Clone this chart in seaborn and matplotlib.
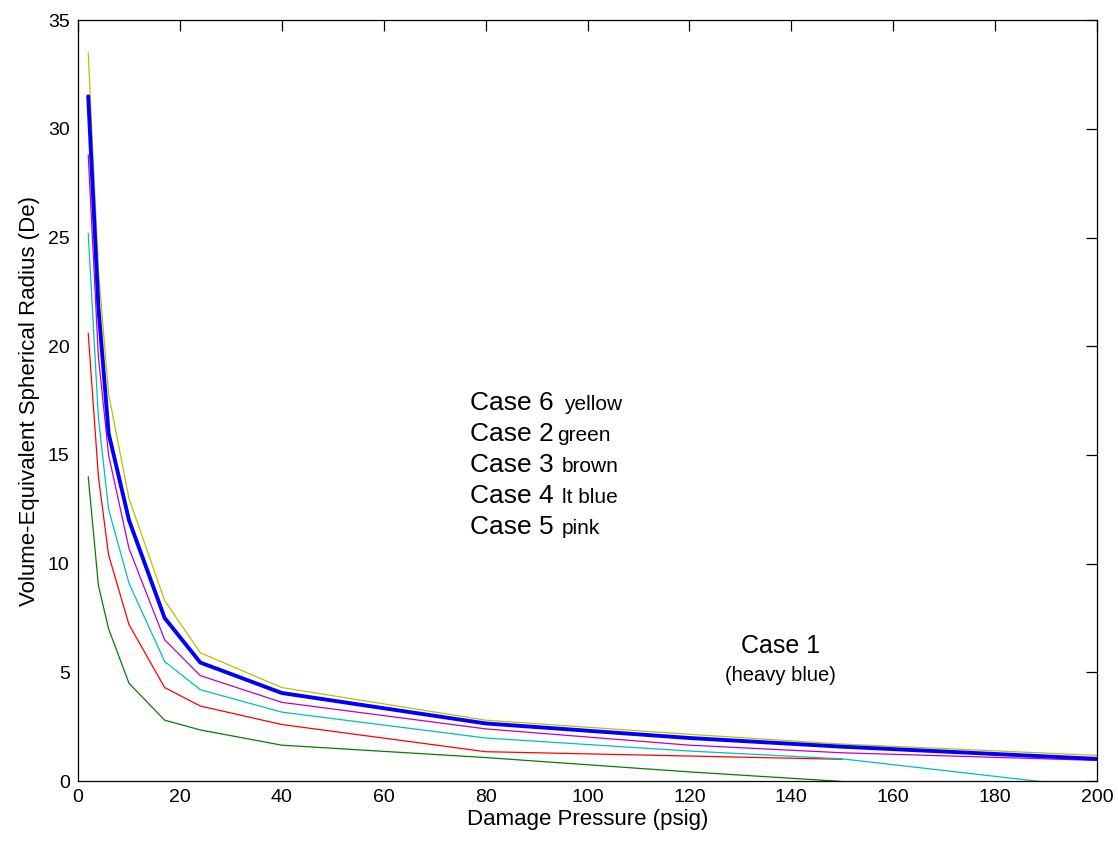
import numpy as np
import pandas as pd
import matplotlib
matplotlib.use("Agg")
import matplotlib.pyplot as plt
import seaborn as sns

# Damage pressure (psig) at which each case was evaluated
pressure = [2, 4, 6, 10, 17, 24, 40, 80, 120, 150, 200]

# Volume-equivalent spherical radius (De) for each case
case1 = [31.5, 21.8, 16.0, 12.0, 7.5, 5.45, 4.05, 2.65, 1.98, 1.58, 1.02]
case2 = [14.0, 9.0, 7.0, 4.5, 2.8, 2.35, 1.65, 1.08, 0.42, -0.02, np.nan]
case3 = [20.6, 14.0, 10.4, 7.2, 4.3, 3.45, 2.6, 1.35, 1.15, 1.0, np.nan]
case4 = [25.2, 16.7, 12.5, 9.1, 5.5, 4.2, 3.17, 1.98, 1.38, 1.02, -0.32]
case5 = [28.8, 19.5, 15.0, 10.7, 6.5, 4.85, 3.62, 2.4, 1.65, 1.3, 0.95]
case6 = [33.5, 23.5, 17.8, 13.0, 8.3, 5.9, 4.3, 2.8, 2.15, 1.7, 1.18]

case_names = ["Case 6", "Case 2", "Case 3", "Case 4", "Case 5", "Case 1"]
case_values = [case6, case2, case3, case4, case5, case1]
case_colors = [(0.75, 0.75, 0), (0, 0.5, 0), (1, 0, 0),
               (0, 0.75, 0.75), (0.75, 0, 0.75), (0, 0, 1)]
case_widths = [0.9, 0.9, 0.9, 0.9, 0.9, 2.8]

x_ticks = [0, 20, 40, 60, 80, 100, 120, 140, 160, 180, 200]
y_ticks = [0, 5, 10, 15, 20, 25, 30, 35]

df = pd.concat(
    [pd.DataFrame({"pressure": pressure, "radius": vals, "case": name})
     for name, vals in zip(case_names, case_values)],
    ignore_index=True,
)

sns.set_style("white")
plt.rcParams["font.family"] = ["Liberation Sans", "DejaVu Sans"]
plt.rcParams["text.color"] = "black"
plt.rcParams["axes.labelcolor"] = "black"
plt.rcParams["xtick.color"] = "black"
plt.rcParams["ytick.color"] = "black"

fig = plt.figure(figsize=(11.18, 8.42), dpi=100)
ax = fig.add_axes([0.0698, 0.0724, 0.9114, 0.9036])

for name, color, lw in zip(case_names, case_colors, case_widths):
    sub = df[df["case"] == name]
    sns.lineplot(data=sub, x="pressure", y="radius", color=color,
                 linewidth=lw, estimator=None, sort=False, legend=False, ax=ax)

ax.set_xlim(0, 200)
ax.set_ylim(0, 35)
ax.set_xticks(x_ticks)
ax.set_yticks(y_ticks)
ax.tick_params(direction="in", length=8, width=0.9, labelsize=14,
               top=True, right=True, colors="black", pad=6)
for sp in ax.spines.values():
    sp.set_visible(True)
    sp.set_color("black")
    sp.set_linewidth(0.9)

ax.set_xlabel("Damage Pressure (psig)", fontsize=16, labelpad=2, color="black")
ax.set_ylabel("Volume-Equivalent Spherical Radius (De)", fontsize=16,
              labelpad=6, color="black")

# Case key, large case number followed by the smaller colour name
key_rows = [("Case 6", "yellow", 95.4), ("Case 2", "green", 94.0),
            ("Case 3", "brown", 95.0), ("Case 4", "lt blue", 95.0),
            ("Case 5", "pink", 95.0)]
base_y = 17.07
for i, (label, word, wx) in enumerate(key_rows):
    yb = base_y - i * 1.43
    ax.text(76.9, yb, label, fontsize=19, va="baseline", ha="left", color="black")
    ax.text(wx, yb, word, fontsize=15, va="baseline", ha="left", color="black")

ax.text(137.8, 5.89, "Case 1", fontsize=18, va="baseline", ha="center", color="black")
ax.text(137.8, 4.6, "(heavy blue)", fontsize=14.5, va="baseline", ha="center",
        color="black")

fig.savefig("out.png", dpi=100)
